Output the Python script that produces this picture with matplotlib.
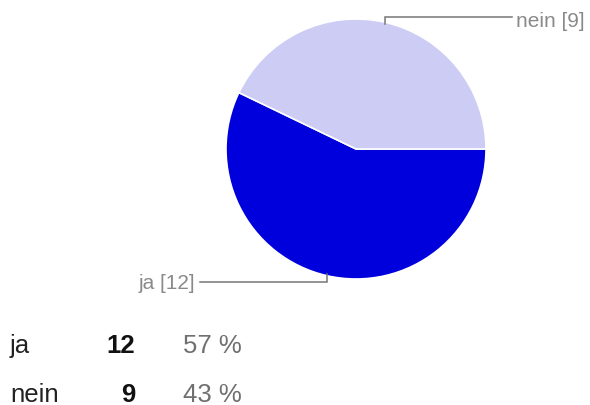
import matplotlib
matplotlib.use("Agg")
import matplotlib.pyplot as plt

# survey answers
labels = ["ja", "nein"]
counts = [12, 9]
colors = ["#0000dc", "#ccccf5"]

total = sum(counts)
percents = [round(100 * c / total) for c in counts]

plt.rcParams['font.family'] = ['Liberation Sans', 'DejaVu Sans']

W, H = 590, 406
fig = plt.figure(figsize=(W / 100, H / 100), dpi=100)

# pie: centre (356,150) px, radius 130 px
cx, cy, r = 356, 150, 130
ax = fig.add_axes([(cx - r) / W, (H - cy - r) / H, 2 * r / W, 2 * r / H])
ax.pie(counts, colors=colors, startangle=0, counterclock=False,
       wedgeprops=dict(edgecolor="white", linewidth=1.2))
ax.set_xlim(-1, 1)
ax.set_ylim(-1, 1)
ax.set_aspect("equal")
ax.axis("off")

# leader lines + callout labels
line_kw = dict(color="#777777", lw=1.1, clip_on=False, solid_joinstyle="miter")
ax.plot([0.223, 0.223, 1.2], [0.96, 1.015, 1.015], **line_kw)
ax.text(1.23, 0.99, f"{labels[1]} [{counts[1]}]", ha="left", va="center",
        fontsize=15, color="#8a8a8a", clip_on=False)
ax.plot([-0.223, -0.223, -1.2], [-0.96, -1.023, -1.023], **line_kw)
ax.text(-1.238, -1.025, f"{labels[0]} [{counts[0]}]", ha="right", va="center",
        fontsize=15, color="#8a8a8a", clip_on=False)

# summary table below the pie
baselines = [353, 402]
for lab, c, p, yb in zip(labels, counts, percents, baselines):
    y = 1 - yb / H
    fig.text(10 / W, y, lab, ha="left", va="baseline", fontsize=18.5, color="#222222")
    fig.text(135 / W, y, str(c), ha="right", va="baseline", fontsize=18.5,
             fontweight="bold", color="#111111")
    fig.text(183 / W, y, f"{p} %", ha="left", va="baseline", fontsize=18.5,
             color="#707070")

fig.savefig("out.png", dpi=100)
